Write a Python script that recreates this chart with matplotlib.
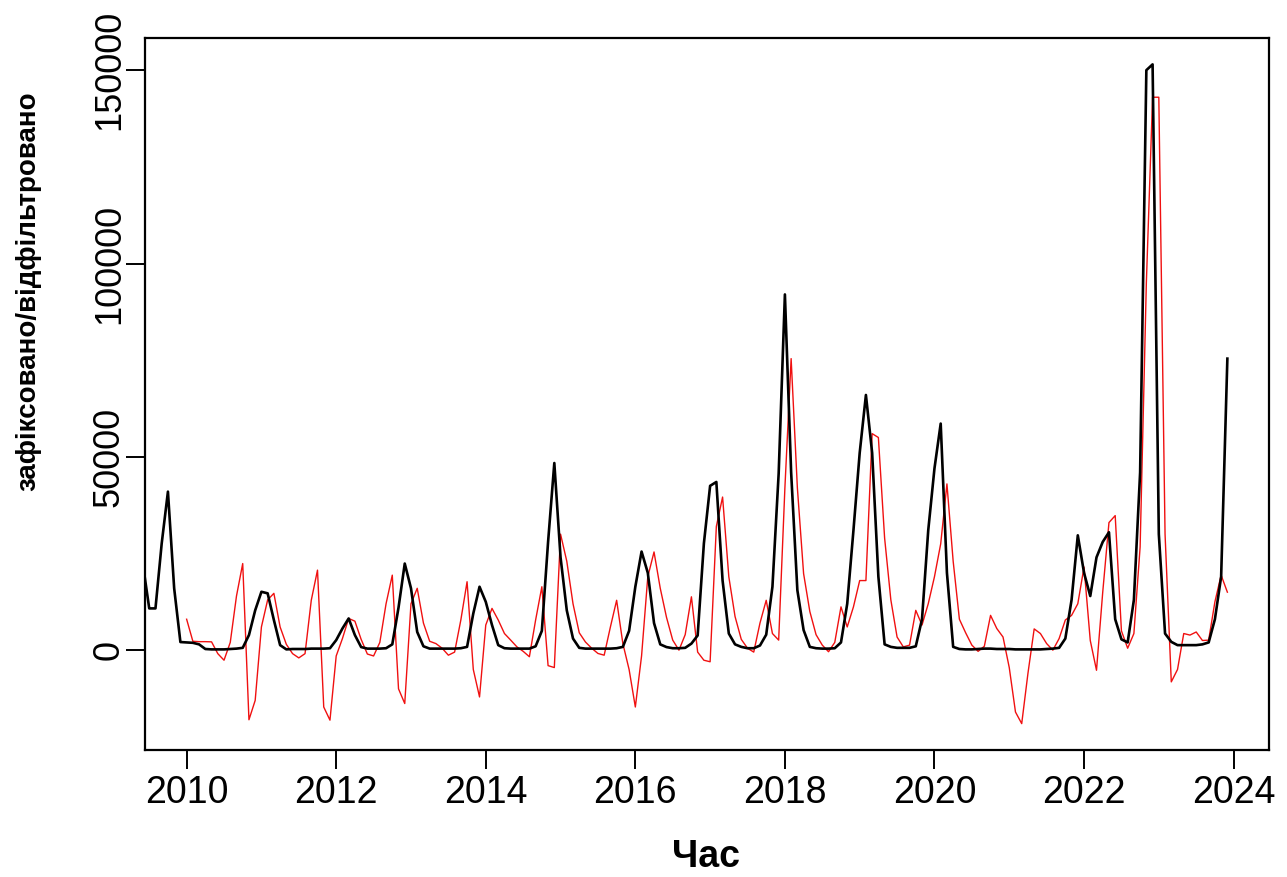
import numpy as np
import matplotlib
matplotlib.use("Agg")
import matplotlib.pyplot as plt

# Recorded monthly values, June 2009 - December 2023
recorded_start = 2009 + 5 / 12
recorded_2009 = [22000, 10800, 10800, 27600, 41000, 16000, 2100]
recorded_2010 = [2000, 1900, 1500, 300, 200, 200, 200, 300, 400, 600, 3900, 10300]
recorded_2011 = [15100, 14700, 7800, 1300, 200, 300, 300, 300, 400, 400, 400, 500]
recorded_2012 = [2600, 5600, 8200, 3900, 800, 400, 400, 400, 500, 1500, 11000, 22400]
recorded_2013 = [16000, 4700, 1000, 400, 400, 400, 400, 400, 500, 850, 9500, 16400]
recorded_2014 = [12500, 6500, 1300, 500, 400, 400, 400, 400, 1000, 5000, 28000, 48400]
recorded_2015 = [24000, 10300, 3000, 600, 400, 400, 400, 400, 400, 500, 850, 5000]
recorded_2016 = [16400, 25500, 20000, 7000, 1500, 800, 500, 500, 600, 1700, 3800, 27600]
recorded_2017 = [42500, 43500, 18000, 4300, 1500, 850, 500, 500, 1200, 4000, 16400, 45700]
recorded_2018 = [92000, 46000, 15500, 5200, 850, 500, 400, 400, 500, 2000, 12000, 31000]
recorded_2019 = [51000, 66000, 51000, 19000, 1500, 850, 600, 600, 600, 1000, 8000, 31000]
recorded_2020 = [47000, 58600, 20000, 850, 300, 200, 200, 300, 400, 400, 300, 300]
recorded_2021 = [300, 200, 200, 200, 200, 200, 300, 400, 600, 3000, 13000, 29700]
recorded_2022 = [20000, 14000, 24000, 28000, 30500, 8000, 2800, 2000, 13000, 46000, 150000, 151500]
recorded_2023 = [30000, 4300, 2150, 1300, 1300, 1300, 1300, 1500, 2000, 8000, 19000, 75400]

# Filtered monthly values, January 2010 - December 2023
filtered_start = 2010.0
filtered_2010 = [8000, 2300, 2200, 2200, 2150, -900, -2600, 2000, 14000, 22400, -18000, -13000]
filtered_2011 = [6000, 13000, 14700, 6000, 1500, -900, -2000, -900, 12900, 20700, -14700, -18100]
filtered_2012 = [-1500, 3000, 8200, 7500, 2800, -1000, -1500, 2000, 12000, 19400, -10000, -13800]
filtered_2013 = [12000, 16000, 7000, 2300, 1700, 500, -1300, -500, 7800, 17700, -5000, -12100]
filtered_2014 = [6500, 10800, 7800, 4300, 2600, 850, -300, -1700, 7800, 16400, -4000, -4500]
filtered_2015 = [30000, 23000, 12000, 4500, 2100, 500, -850, -1300, 6000, 12900, 1700, -5000]
filtered_2016 = [-14700, -1500, 19000, 25400, 16000, 8500, 2600, 0, 4000, 13800, -500, -2600]
filtered_2017 = [-3000, 32000, 39600, 19000, 8700, 2800, 500, -500, 7000, 12900, 4300, 2600]
filtered_2018 = [42000, 75400, 42000, 19800, 10000, 4000, 1300, -400, 2000, 11200, 6000, 11200]
filtered_2019 = [18000, 18000, 56000, 55000, 29000, 13000, 3400, 850, 1300, 10300, 6500, 12000]
filtered_2020 = [19000, 27500, 43000, 23000, 8000, 4500, 1300, -300, 1000, 9000, 5600, 3400]
filtered_2021 = [-4500, -16000, -19000, -6000, 5500, 4300, 1700, 0, 3000, 7800, 9000, 12000]
filtered_2022 = [21500, 2500, -5200, 15000, 33000, 34800, 5000, 500, 4300, 26700, 95000, 143000]
filtered_2023 = [143000, 30000, -8200, -5000, 4300, 3900, 4700, 2500, 2600, 12500, 19400, 15000]

x_ticks = [2010, 2012, 2014, 2016, 2018, 2020, 2022, 2024]
y_ticks = [0, 50000, 100000, 150000]
x_title = "Час"
y_title = "зафіксовано/відфільтровано"

recorded = np.array(recorded_2009 + recorded_2010 + recorded_2011 + recorded_2012
                    + recorded_2013 + recorded_2014 + recorded_2015 + recorded_2016
                    + recorded_2017 + recorded_2018 + recorded_2019 + recorded_2020
                    + recorded_2021 + recorded_2022 + recorded_2023, dtype=float)
filtered = np.array(filtered_2010 + filtered_2011 + filtered_2012 + filtered_2013
                    + filtered_2014 + filtered_2015 + filtered_2016 + filtered_2017
                    + filtered_2018 + filtered_2019 + filtered_2020 + filtered_2021
                    + filtered_2022 + filtered_2023, dtype=float)
t_rec = recorded_start + np.arange(len(recorded)) / 12
t_fil = filtered_start + np.arange(len(filtered)) / 12

W, H, DPI = 1287, 877, 100
fig = plt.figure(figsize=(W / DPI, H / DPI), dpi=DPI)
L, R, T, B = 145, 1269, 38, 750
ax = fig.add_axes([L / W, 1 - B / H, (R - L) / W, (B - T) / H])

family = ["Liberation Sans", "DejaVu Sans"]

ax.plot(t_fil, filtered, color="#f01010", lw=1.0, zorder=2)
ax.plot(t_rec, recorded, color="black", lw=1.9, zorder=3)

# x range follows the filtered series, y range covers both, each padded by 4 %
span = t_fil[-1] - t_fil[0]
ax.set_xlim(t_fil[0] - 0.04 * span, t_fil[-1] + 0.04 * span)
lo = min(recorded.min(), filtered.min())
hi = max(recorded.max(), filtered.max())
ax.set_ylim(lo - 0.04 * (hi - lo), hi + 0.04 * (hi - lo))

ax.set_xticks(x_ticks)
ax.set_xticklabels([str(v) for v in x_ticks], family=family, fontsize=27)
ax.set_yticks(y_ticks)
ax.set_yticklabels([str(v) for v in y_ticks], family=family, fontsize=26,
                   rotation=90, va="center")
ax.tick_params(axis="both", direction="out", length=14, width=1.4, color="black")
ax.tick_params(axis="x", pad=4)
ax.tick_params(axis="y", pad=-1)
for s in ax.spines.values():
    s.set_linewidth(1.6)

fig.text(706 / W, 1 - 857 / H, x_title, family=family, fontweight="bold",
         fontsize=27, ha="center", va="center")
fig.text(28 / W, 1 - 291 / H, y_title, family=family, fontweight="bold",
         fontsize=20, ha="center", va="center", rotation=90)

fig.savefig("out.png", dpi=DPI)
